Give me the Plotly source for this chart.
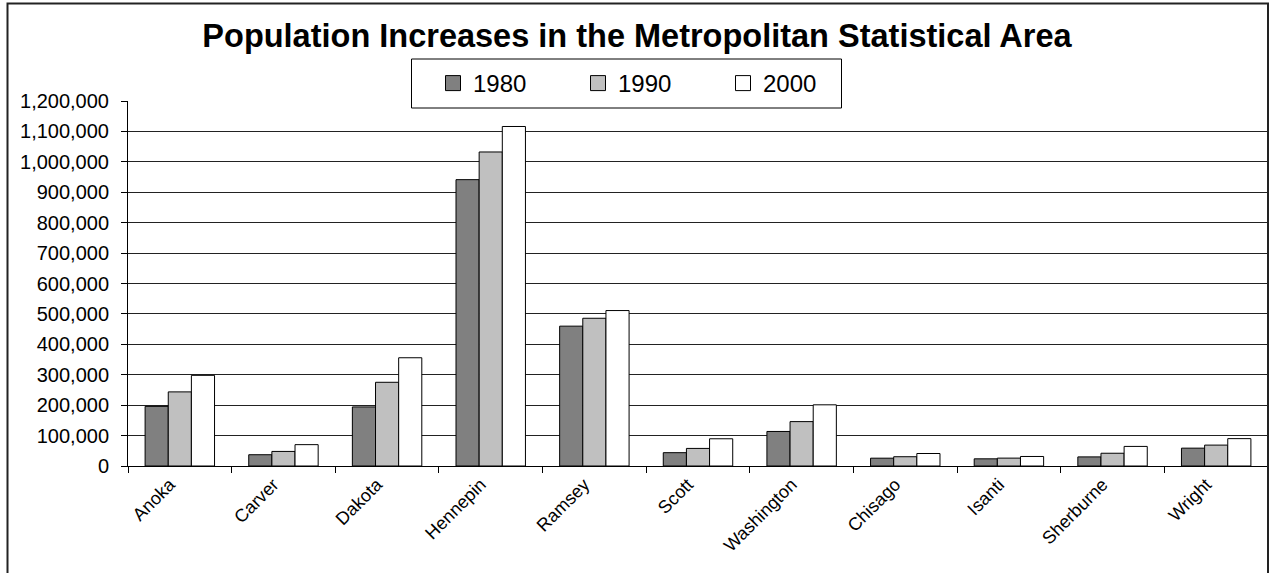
import plotly.graph_objects as go

counties = ["Anoka", "Carver", "Dakota", "Hennepin", "Ramsey", "Scott",
            "Washington", "Chisago", "Isanti", "Sherburne", "Wright"]
pop_1980 = [195998, 37046, 194279, 941411, 459784, 43784, 113571, 25717, 23600, 29908, 58681]
pop_1990 = [243641, 47915, 275227, 1032431, 485765, 57846, 145896, 30521, 25921, 41945, 68710]
pop_2000 = [298084, 70205, 355904, 1116200, 511035, 89498, 201130, 41101, 31287, 64417, 89986]
series_names = ["1980", "1990", "2000"]
series_colors = ["#808080", "#c0c0c0", "#ffffff"]
y_ticks = list(range(0, 1200001, 100000))

FONT = "Liberation Sans, Arial, sans-serif"

fig = go.Figure()
for name, vals, col in zip(series_names, [pop_1980, pop_1990, pop_2000], series_colors):
    fig.add_trace(go.Bar(x=counties, y=vals, name=name, showlegend=False,
                         marker=dict(color=col, line=dict(color="#000000", width=1))))
for name, col in zip(series_names, series_colors):
    fig.add_trace(go.Scatter(x=[None], y=[None], mode="markers", name=name,
                             marker=dict(symbol="square", size=15, color=col,
                                         line=dict(color="#000000", width=1))))

# plot area: x 128..1268, y 101..466
L, R, T, B = 128, 6, 101, 107
W, H = 1274 - L - R, 573 - T - B

def px_x(x):
    return (x - L) / W

def px_y(y):
    return (573 - B - y) / H

fig.update_layout(
    width=1274, height=573,
    margin=dict(l=L, r=R, t=T, b=B),
    paper_bgcolor="white", plot_bgcolor="white",
    barmode="group", bargap=0.33, bargroupgap=0,
    font=dict(family=FONT, color="#000000"),
    title=dict(text="<b>Population Increases in the Metropolitan Statistical Area</b>",
               x=0.5, xref="container", xanchor="center",
               y=1 - 36 / 573, yref="container", yanchor="middle",
               font=dict(size=32.5, family=FONT, color="#000000")),
    xaxis=dict(type="category", showline=True, linecolor="#000000", linewidth=1,
               ticks="outside", tickson="boundaries", ticklen=6, tickcolor="#000000",
               tickangle=-45, ticklabelshift=-10,
               tickfont=dict(size=18, family=FONT, color="#000000"),
               showgrid=False, zeroline=False, fixedrange=True),
    yaxis=dict(range=[0, 1200000], tickvals=y_ticks, tickformat=",",
               showline=True, linecolor="#000000", linewidth=1,
               ticks="outside", ticklen=6, tickcolor="#000000",
               ticklabelstandoff=8,
               tickfont=dict(size=20, family=FONT, color="#000000"),
               showgrid=True, gridcolor="#222222", gridwidth=1, zeroline=False),
    legend=dict(orientation="h", x=px_x(433), xanchor="left",
                y=px_y(83.5), yanchor="middle",
                bgcolor="rgba(0,0,0,0)", borderwidth=0,
                entrywidth=100, entrywidthmode="pixels",
                font=dict(size=24, family=FONT, color="#000000")),
    shapes=[
        dict(type="rect", xref="paper", yref="paper",
             x0=px_x(411.5), x1=px_x(841.5), y0=px_y(108), y1=px_y(59),
             line=dict(color="#000000", width=1), fillcolor="white", layer="above"),
        dict(type="rect", xref="paper", yref="paper",
             x0=px_x(7.5), x1=px_x(1268), y0=px_y(600), y1=px_y(3.5),
             line=dict(color="#222222", width=2), fillcolor="rgba(0,0,0,0)", layer="above"),
    ],
)

fig.write_html("out.html")
